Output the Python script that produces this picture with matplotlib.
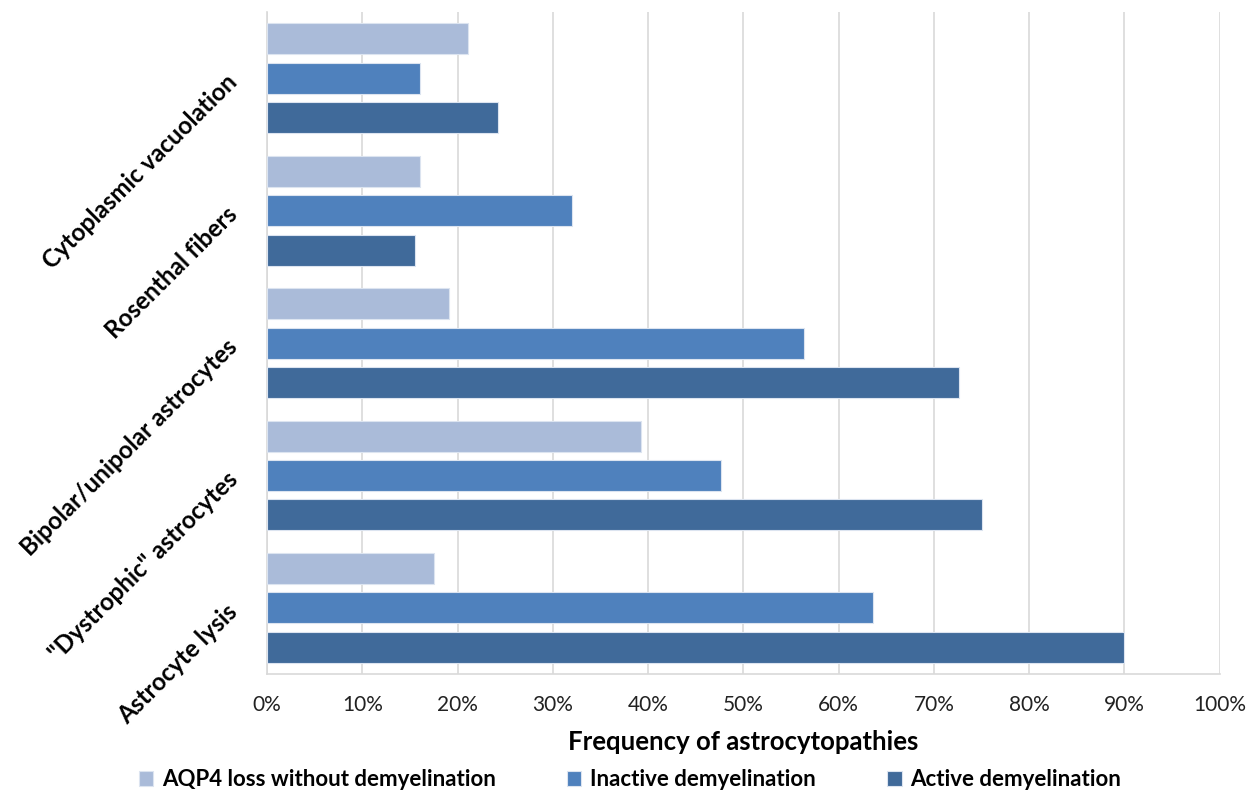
import matplotlib.pyplot as plt
import numpy as np

# categories listed bottom to top
categories = ["Astrocyte lysis", "\"Dystrophic\" astrocytes", "Bipolar/unipolar astrocytes",
              "Rosenthal fibers", "Cytoplasmic vacuolation"]
aqp4_loss = [17.5, 39.3, 19.1, 16.1, 21.1]
inactive = [63.6, 47.7, 56.4, 32.0, 16.1]
active = [90.0, 75.1, 72.6, 15.5, 24.2]
series_names = ["AQP4 loss without demyelination", "Inactive demyelination", "Active demyelination"]
xtick_vals = list(range(0, 101, 10))

colors = ["#AABBD9", "#4F81BD", "#406A9A"]

plt.rcParams["font.family"] = ["Lato", "DejaVu Sans"]

fig = plt.figure(figsize=(12.6, 7.95), dpi=100)
ax = fig.add_axes([0.212, 0.152, 0.756, 0.833])

y = np.arange(len(categories))
h = 0.234
step = 0.298
for vals, off, c, name in zip([aqp4_loss, inactive, active], [step, 0, -step], colors, series_names):
    ax.barh(y + off, vals, height=h, color=c, edgecolor="#DCE4F0", linewidth=0.8, label=name, zorder=3)

ax.set_xlim(0, 100)
ax.set_ylim(-0.5, 4.5)
ax.set_xticks(xtick_vals)
ax.set_xticklabels([f"{v}%" for v in xtick_vals], fontsize=15, color="#222222")
ax.tick_params(axis="x", length=0, pad=15)
ax.tick_params(axis="y", length=0, pad=24)
ax.set_yticks(y)
ax.set_yticklabels(categories, rotation=45, ha="right", va="center", rotation_mode="anchor",
                   fontsize=17.5, fontweight="bold")
ax.grid(axis="x", color="#D9D9D9", linewidth=1.2, zorder=0)
for s in ["top", "right"]:
    ax.spines[s].set_visible(False)
ax.spines["left"].set_color("#D9D9D9")
ax.spines["bottom"].set_color("#D9D9D9")
ax.spines["left"].set_linewidth(1.2)
ax.spines["bottom"].set_linewidth(1.2)

ax.set_xlabel("Frequency of astrocytopathies", fontsize=18.5, fontweight="bold", labelpad=11)

fig.legend(loc="center", bbox_to_anchor=(0.5, 1 - 780 / 795), ncol=3, frameon=False,
           prop={"size": 16, "weight": "bold"}, handlelength=0.65, handleheight=0.65,
           handletextpad=0.4, columnspacing=3.2)

fig.savefig("out.png", dpi=100)
